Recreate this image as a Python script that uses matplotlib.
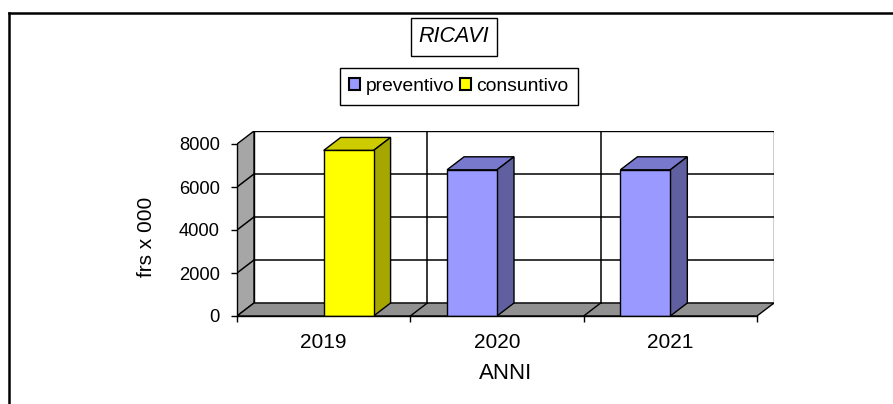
import matplotlib.pyplot as plt
from matplotlib.patches import Polygon, Rectangle, Patch
from matplotlib.lines import Line2D

plt.rcParams['font.family'] = ['Liberation Sans', 'DejaVu Sans']

# data
anni = ['2019', '2020', '2021']
preventivo = [None, 6800, 6800]
consuntivo = [7700, None, None]
y_ticks = [0, 2000, 4000, 6000, 8000]

W, H_PX = 893, 404
fig = plt.figure(figsize=(W / 100, H_PX / 100), dpi=100)

# front plane in pixels, plus 3d depth offset
front_l, front_r, front_b, front_t = 237, 757, 316, 144
dpx, dpy = 17, 13
ymax = 8000
ax = fig.add_axes([front_l / W, 1 - front_b / H_PX,
                   (front_r - front_l + dpx) / W, (front_b - front_t + dpy) / H_PX])
n = len(anni)
xmax = n * (front_r - front_l + dpx) / (front_r - front_l)
ytop = ymax * (front_b - front_t + dpy) / (front_b - front_t)
ax.set_xlim(0, xmax)
ax.set_ylim(0, ytop)
D = xmax - n
Hd = ytop - ymax

for s in ['top', 'right']:
    ax.spines[s].set_visible(False)
ax.spines['left'].set_bounds(0, ymax)
ax.spines['bottom'].set_bounds(0, n)
for s in ['left', 'bottom']:
    ax.spines[s].set_linewidth(1.0)
    ax.spines[s].set_zorder(10)

wall_kw = dict(edgecolor='black', linewidth=1.0)
# back wall
ax.add_patch(Rectangle((D, Hd), n, ymax, facecolor='white', zorder=1, **wall_kw))
# left side wall
ax.add_patch(Polygon([(0, 0), (D, Hd), (D, ymax + Hd), (0, ymax)],
                     facecolor='#a6a6a6', zorder=1, **wall_kw))
# floor
ax.add_patch(Polygon([(0, 0), (n, 0), (n + D, Hd), (D, Hd)],
                     facecolor='#919191', zorder=2, **wall_kw))

# gridlines on back wall and side wall
for v in y_ticks[1:-1]:
    ax.plot([D, n + D], [v + Hd, v + Hd], color='black', lw=1.1, zorder=2)
    ax.plot([0, D], [v, v + Hd], color='black', lw=1.1, zorder=2)
for i in range(1, n):
    ax.plot([i + D, i + D], [Hd, ymax + Hd], color='black', lw=1.1, zorder=2)
    ax.plot([i, i + D], [0, Hd], color='black', lw=1.0, zorder=3)


def bar3d(x0, w, v, front, top, side):
    ax.add_patch(Rectangle((x0, 0), w, v, facecolor=front, edgecolor='black', lw=1.0, zorder=6))
    ax.add_patch(Polygon([(x0, v), (x0 + w, v), (x0 + w + D, v + Hd), (x0 + D, v + Hd)],
                         facecolor=top, edgecolor='black', lw=1.0, zorder=5))
    ax.add_patch(Polygon([(x0 + w, 0), (x0 + w + D, Hd), (x0 + w + D, v + Hd), (x0 + w, v)],
                         facecolor=side, edgecolor='black', lw=1.0, zorder=5))


bw = 0.288
for i in range(n):
    c = i + 0.5
    if preventivo[i]:
        bar3d(c - bw, bw, preventivo[i], '#9999ff', '#7878cc', '#6060a0')
    if consuntivo[i]:
        bar3d(c, bw, consuntivo[i], '#ffff00', '#cccc00', '#a6a600')

ax.set_yticks(y_ticks)
ax.tick_params(axis='y', direction='out', length=6 * 0.72, width=1.0, pad=8, labelsize=13.2)
ax.set_xticks(range(n + 1))
ax.set_xticklabels([])
ax.set_xticks([i + 0.5 for i in range(n)], minor=True)
ax.set_xticklabels(anni, minor=True)
ax.tick_params(axis='x', which='major', direction='out', length=6 * 0.72, width=1.0)
ax.tick_params(axis='x', which='minor', length=0, pad=12.5, labelsize=15)
ax.set_xlabel('ANNI', fontsize=16, labelpad=7.5)
fig.text(146.5 / W, 1 - 236.7 / H_PX, 'frs x 000', rotation=90, ha='center', va='center', fontsize=15)

# title box
fig.text(454 / W, 1 - 37 / H_PX, 'RICAVI', style='italic', fontsize=15.5, ha='center', va='center',
         bbox=dict(boxstyle='square,pad=0.38', facecolor='white', edgecolor='black', lw=1.0))

# legend
handles = [Patch(facecolor='#9999ff', edgecolor='black', lw=1.5, label='preventivo'),
           Patch(facecolor='#ffff00', edgecolor='black', lw=1.5, label='consuntivo')]
leg = fig.legend(handles=handles, loc='center', bbox_to_anchor=(459 / W, 1 - 86.5 / H_PX), ncol=2,
                 fontsize=13.9, frameon=True, fancybox=False, framealpha=1, edgecolor='black',
                 handlelength=0.55, handleheight=0.55, handletextpad=0.3, columnspacing=0.3,
                 borderpad=0.5, borderaxespad=0)
leg.get_frame().set_linewidth(1.0)

# outer frame
fig.add_artist(Line2D([8.5 / W, 8.5 / W], [0, 1 - 13 / H_PX], color='black', lw=1.8,
                      transform=fig.transFigure))
fig.add_artist(Line2D([8.5 / W, 1], [1 - 13 / H_PX, 1 - 13 / H_PX], color='black', lw=1.8,
                      transform=fig.transFigure, solid_capstyle='projecting'))

fig.savefig('out.png', dpi=100)
